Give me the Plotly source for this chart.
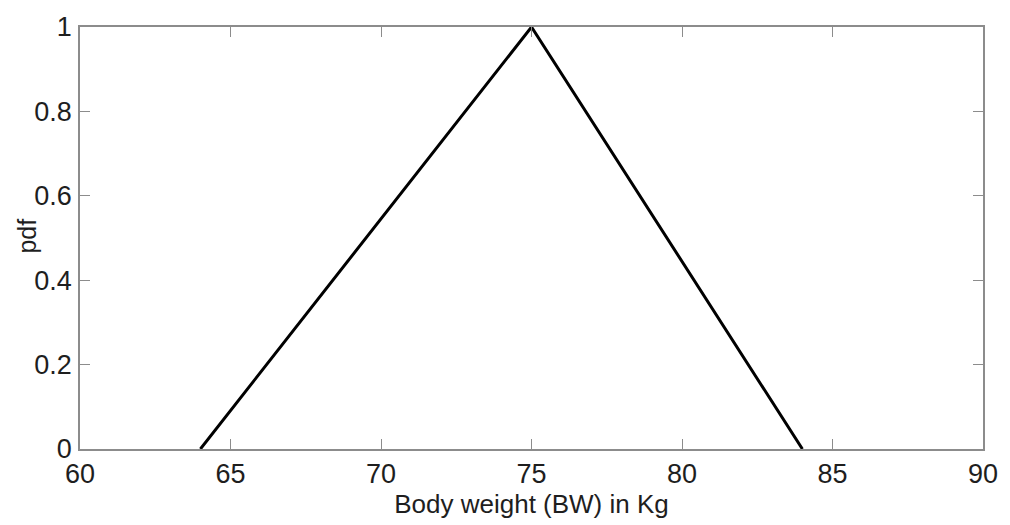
import plotly.graph_objects as go

# Triangular distribution of body weight: lower limit, mode, upper limit
body_weight = [64, 75, 84]
pdf_values = [0, 1, 0]

x_ticks = [60, 65, 70, 75, 80, 85, 90]
y_ticks = [0, 0.2, 0.4, 0.6, 0.8, 1]

axis_color = "#8c8c8c"
text_color = "#1e1e1e"
font_family = "Liberation Sans, Arial, sans-serif"

fig = go.Figure()
fig.add_trace(go.Scatter(
    x=body_weight, y=pdf_values, mode="lines",
    line=dict(color="black", width=3),
    showlegend=False, hoverinfo="skip",
))

common_axis = dict(
    showgrid=False, zeroline=False,
    showline=True, linecolor=axis_color, linewidth=1.5,
    mirror="ticks", ticks="inside", ticklen=10, tickwidth=1.2,
    tickcolor=axis_color,
    tickfont=dict(family=font_family, size=27, color=text_color),
)

fig.update_layout(
    width=1010, height=525,
    margin=dict(l=80, r=19, t=22, b=76),
    paper_bgcolor="white", plot_bgcolor="white",
    xaxis=dict(
        range=[60, 90], tickvals=x_ticks, ticktext=[str(v) for v in x_ticks],
        title=dict(text="Body weight (BW) in Kg", standoff=4,
                   font=dict(family=font_family, size=26, color=text_color)),
        **common_axis,
    ),
    yaxis=dict(range=[0, 1], tickvals=y_ticks, ticklabelstandoff=1,
               **common_axis),
)

# y-axis label placed close to the tick labels
fig.add_annotation(
    text="pdf", textangle=-90, showarrow=False,
    xref="paper", yref="paper", x=-0.059, y=0.505,
    xanchor="center", yanchor="middle",
    font=dict(family=font_family, size=25, color=text_color),
)

fig.write_html("out.html")
